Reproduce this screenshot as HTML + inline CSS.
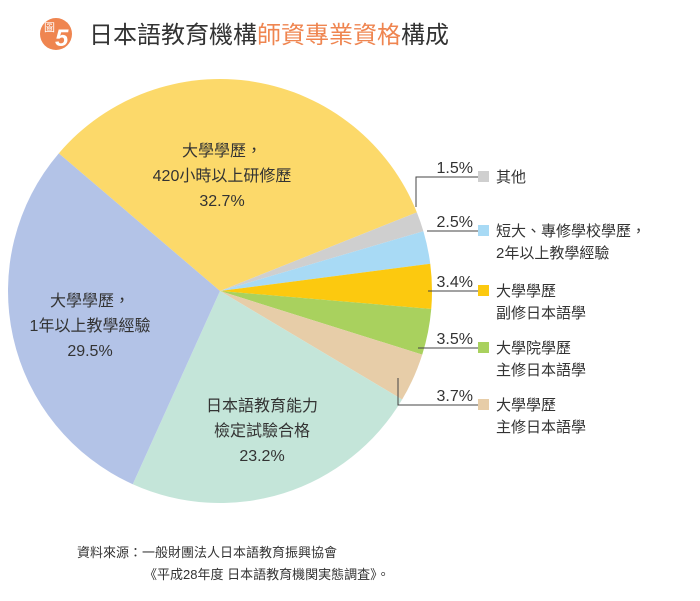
<!DOCTYPE html>
<html><head><meta charset="utf-8"><style>
body{margin:0;background:#fff;width:700px;height:596px;overflow:hidden;font-family:"Liberation Sans","Noto Sans CJK TC",sans-serif;}
svg text{font-family:"Liberation Sans","Noto Sans CJK TC",sans-serif;fill:#333;}
</style></head><body>
<svg width="700" height="596">
<g>
<circle cx="56" cy="34" r="16" fill="#ef8550"/>
<text x="44" y="31" font-size="11" style="fill:#fff">圖</text>
<text x="55" y="46" font-size="24" font-weight="bold" font-style="italic" style="fill:#fff">5</text>
<text x="89" y="43" font-size="24"><tspan>日本語教育機構</tspan><tspan style="fill:#ef8550">師資專業資格</tspan><tspan>構成</tspan></text>
</g>
<g id="pie"></g>
<g id="labels"></g>
<g stroke="#444" stroke-width="1" fill="none">
<path d="M416,207 V177 H478"/>
<path d="M427,231 H478"/>
<path d="M428,291 H478"/>
<path d="M418,348 H478"/>
<path d="M398,378 V405 H478"/>
</g>
<g id="legend"></g>
<g>
<text x="77" y="557" font-size="13">資料來源：一般財團法人日本語教育振興協會</text>
<text x="144" y="579" font-size="13">《平成28年度 日本語教育機関実態調査》。</text>
</g>
</svg>
<script>
const categories=["大學學歷，420小時以上研修歷","其他","短大、專修學校學歷，2年以上教學經驗","大學學歷副修日本語學","大學院學歷主修日本語學","大學學歷主修日本語學","日本語教育能力檢定試驗合格","大學學歷，1年以上教學經驗"];
const values=[32.7,1.5,2.5,3.4,3.5,3.7,23.2,29.5];
const valueLabels=["32.7%","1.5%","2.5%","3.4%","3.5%","3.7%","23.2%","29.5%"];
const colors=["#fcd96a","#cfcfcf","#a8daf5","#fcc90f","#a9d15e","#e7cda8","#c4e5d9","#b3c3e7"];
const sliceNames=["slice-420h","slice-other","slice-junior","slice-minor","slice-grad","slice-major","slice-exam","slice-1yr"];
const NS="http://www.w3.org/2000/svg";
const cx=220,cy=291,r=212,startDeg=-49.5;
const total=values.reduce((a,b)=>a+b,0);
function pt(deg,rad){const a=deg*Math.PI/180;return [cx+rad*Math.sin(a),cy-rad*Math.cos(a)];}
const pie=document.getElementById('pie');
let acc=startDeg;const mids=[];
values.forEach((v,i)=>{
 const sweep=v/total*360;const a0=acc,a1=acc+sweep;acc=a1;mids.push((a0+a1)/2);
 const p0=pt(a0,r),p1=pt(a1,r);
 const p=document.createElementNS(NS,'path');
 p.setAttribute('d',`M${cx},${cy} L${p0[0]},${p0[1]} A${r},${r} 0 ${sweep>180?1:0} 1 ${p1[0]},${p1[1]} Z`);
 p.setAttribute('fill',colors[i]);
 
 
 pie.appendChild(p);
});
const inner=[[0,["大學學歷，","420小時以上研修歷"],222,156],[7,["大學學歷，","1年以上教學經驗"],90,306],[6,["日本語教育能力","檢定試驗合格"],262,411]];
const lg=document.getElementById('labels');
inner.forEach(([i,lines,x,y])=>{
 const t=document.createElementNS(NS,'text');
 t.setAttribute('x',x);t.setAttribute('y',y);t.setAttribute('font-size','16');t.setAttribute('text-anchor','middle');
 
 
 lines.concat([valueLabels[i]]).forEach((s,k)=>{const ts=document.createElementNS(NS,'tspan');ts.setAttribute('x',x);ts.setAttribute('dy',k?25:0);ts.textContent=s;t.appendChild(ts);});
 lg.appendChild(t);
});
const legendItems=[[1,["其他"],177],[2,["短大、專修學校學歷，","2年以上教學經驗"],231],[3,["大學學歷","副修日本語學"],291],[4,["大學院學歷","主修日本語學"],348],[5,["大學學歷","主修日本語學"],405]];
const leg=document.getElementById('legend');
legendItems.forEach(([i,lines,y])=>{
 const pct=document.createElementNS(NS,'text');
 pct.setAttribute('x',473);pct.setAttribute('y',y-4);pct.setAttribute('font-size','16');pct.setAttribute('text-anchor','end');
 
 
 pct.textContent=valueLabels[i];leg.appendChild(pct);
 const sq=document.createElementNS(NS,'rect');
 sq.setAttribute('x',478);sq.setAttribute('y',y-6);sq.setAttribute('width',11);sq.setAttribute('height',11);sq.setAttribute('fill',colors[i]);
 
 
 leg.appendChild(sq);
 const t=document.createElementNS(NS,'text');
 t.setAttribute('x',496);t.setAttribute('y',y+5);t.setAttribute('font-size','15');
 
 
 lines.forEach((s,k)=>{const ts=document.createElementNS(NS,'tspan');ts.setAttribute('x',496);ts.setAttribute('dy',k?22:0);ts.textContent=s;t.appendChild(ts);});
 leg.appendChild(t);
});
</script>
</body></html>
